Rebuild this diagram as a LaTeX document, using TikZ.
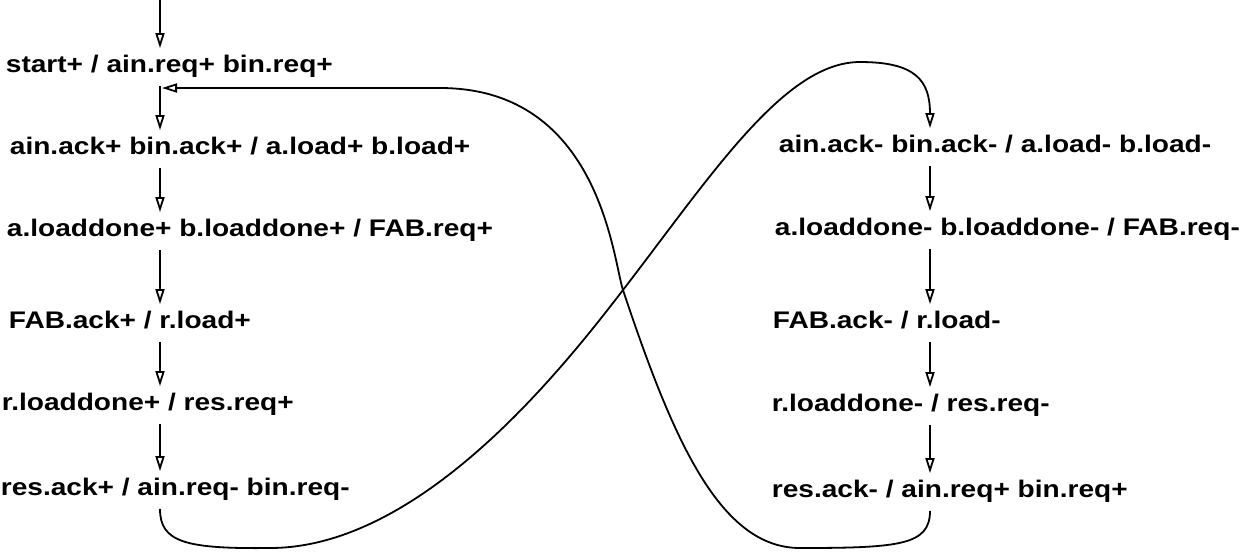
\documentclass[tikz,border=0pt]{standalone}
\usepackage{fontspec}
\setmainfont{Liberation Sans}[FakeStretch=1.17]
\usetikzlibrary{arrows.meta}

\begin{document}
\begin{tikzpicture}[x=0.5pt,y=-0.5pt,line width=0.9pt,
    >={Triangle[open,length=7.5pt,width=4.5pt]}]

      \useasboundingbox (0,0) rectangle (1244,554);

      \coordinate (colp) at (160,0);
      \coordinate (colm) at (930,0);
      \coordinate (entry) at (160,0);
      \coordinate (join) at (162,88);

      \begin{scope}[every node/.style={anchor=base west,inner xsep=0pt,inner ysep=2.5pt,
          text height=9pt,text depth=4pt,font=\fontsize{12}{14}\selectfont\bfseries}]
        \node (p1) at (5,72)   {start+ / ain.req+ bin.req+};
        \node (p2) at (9,154)  {ain.ack+ bin.ack+ / a.load+ b.load+};
        \node (p3) at (6,236)  {a.loaddone+ b.loaddone+ / FAB.req+};
        \node (p4) at (8,328)  {FAB.ack+ / r.load+};
        \node (p5) at (1,410)  {r.loaddone+ / res.req+};
        \node (p6) at (0,495)  {res.ack+ / ain.req- bin.req-};
        \node (m1) at (778,152) {ain.ack- bin.ack- / a.load- b.load-};
        \node (m2) at (774,235) {a.loaddone- b.loaddone- / FAB.req-};
        \node (m3) at (772,328) {FAB.ack- / r.load-};
        \node (m4) at (771,411) {r.loaddone- / res.req-};
        \node (m5) at (771,497) {res.ack- / ain.req+ bin.req+};
      \end{scope}


      \begin{scope}[every edge/.style={draw,->}]
        \path (entry)              edge (p1.north -| colp);
        \path (p1.south -| colp)  edge (p2.north -| colp);
        \path (p2.south -| colp)  edge (p3.north -| colp);
        \path (p3.south -| colp)  edge (p4.north -| colp);
        \path (p4.south -| colp)  edge (p5.north -| colp);
        \path (p5.south -| colp)  edge (p6.north -| colp);
        \path (m1.south -| colm)  edge (m2.north -| colm);
        \path (m2.south -| colm)  edge (m3.north -| colm);
        \path (m3.south -| colm)  edge (m4.north -| colm);
        \path (m4.south -| colm)  edge (m5.north -| colm);
      \end{scope}

      \draw[->] (p6.south -| colp) .. controls (160,542) and (185,549) .. (270,548)
        .. controls (420,548) and (560,372) .. (623,290)
        .. controls (713,173) and (785,62) .. (860,62)
        .. controls (915,62) and (930,80) .. (m1.north -| colm);
      \draw[->] (m5.south -| colm) .. controls (930,545) and (900,548) .. (800,548)
        .. controls (720,548) and (673,440) .. (623,290)
        .. controls (613,260) and (600,88) .. (440,88) -- (join);

    \end{tikzpicture}
\end{document}
